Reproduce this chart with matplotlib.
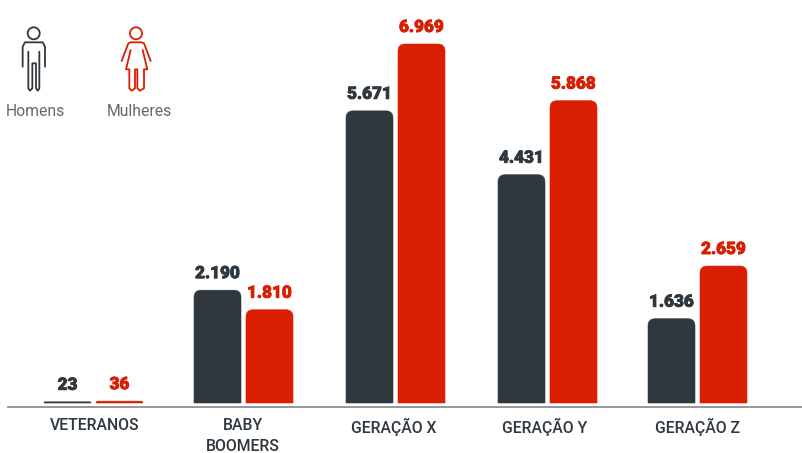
"""Bar chart of men and women per generation."""

import matplotlib
matplotlib.use("Agg")
import matplotlib.pyplot as plt
import matplotlib.patheffects as pe
from matplotlib.path import Path
from matplotlib.patches import PathPatch, Circle

categories = ["VETERANOS", "BABY\nBOOMERS", "GERAÇÃO X", "GERAÇÃO Y", "GERAÇÃO Z"]
homens = [23, 2190, 5671, 4431, 1636]
mulheres = [36, 1810, 6969, 5868, 2659]
homens_labels = ["23", "2.190", "5.671", "4.431", "1.636"]
mulheres_labels = ["36", "1.810", "6.969", "5.868", "2.659"]

DARK = "#30383f"
RED = "#d91e02"
GREY = "#62686d"

# group centres in pixels, the groups are not quite evenly spaced
centers = [93.5, 243.5, 395.5, 547.5, 697.5]
label_centers = [94.5, 243, 393.5, 544.5, 697.5]
bar_w = 47
offset = 26
px_per_unit = 359 / 6969
baseline_px = 403


def rounded_bar(ax, xc, value, color):
    """Bar with rounded top corners only."""
    r = min(7, value * px_per_unit)
    ry = r / px_per_unit
    x0, x1 = xc - bar_w / 2, xc + bar_w / 2
    verts = [(x0, 0), (x0, value - ry), (x0, value), (x0 + r, value),
             (x1 - r, value), (x1, value), (x1, value - ry), (x1, 0), (x0, 0)]
    codes = [Path.MOVETO, Path.LINETO, Path.CURVE3, Path.CURVE3,
             Path.LINETO, Path.CURVE3, Path.CURVE3, Path.LINETO, Path.CLOSEPOLY]
    ax.add_patch(PathPatch(Path(verts, codes), fc=color, ec=color, lw=0.4))


def value_label(ax, xc, value, text, color):
    t = ax.text(xc, value + 12 / px_per_unit, text, ha="center", va="baseline",
                color=color, fontsize=12.3, family="Roboto", weight="black")
    t.set_path_effects([pe.withStroke(linewidth=0.6, foreground=color)])


def zoomed(points):
    return [(x / 3, y / 3 + 10) for x, y in points]


def outline(ax, points, color):
    xs, ys = zip(*zoomed(points))
    ax.plot(xs, ys, color=color, lw=1.3, solid_capstyle="round", solid_joinstyle="round")


fig = plt.figure(figsize=(8.03, 4.53), dpi=100)
ax = fig.add_axes([0, 0, 1, 1])
ax.set_xlim(0, 803)
ax.set_ylim(-(453 - baseline_px) / px_per_unit, baseline_px / px_per_unit)
ax.axis("off")

for i, xc in enumerate(centers):
    rounded_bar(ax, xc - offset, homens[i], DARK)
    rounded_bar(ax, xc + offset, mulheres[i], RED)
    value_label(ax, xc - offset, homens[i], homens_labels[i], DARK)
    value_label(ax, xc + offset, mulheres[i], mulheres_labels[i], RED)
    ax.text(label_centers[i], -14.5 / px_per_unit, categories[i], ha="center", va="top",
            color=DARK, fontsize=11.3, family="Roboto", weight="medium", linespacing=1.55)

ax.plot([8, 803], [-4 / px_per_unit, -4 / px_per_unit], color="#8c8f91", lw=1.3)

# legend, drawn in plain pixel coordinates
lax = fig.add_axes([0, 0, 1, 1])
lax.set_xlim(0, 803)
lax.set_ylim(453, 0)
lax.axis("off")
lax.patch.set_alpha(0)

lax.add_patch(Circle((33.7, 33.3), 6, fc="none", ec=DARK, lw=1.3))
outline(lax, [(68, 170), (68, 110), (75, 97), (128, 97), (135, 110), (135, 170)], DARK)
outline(lax, [(85, 125), (85, 235), (90, 242), (97, 235), (97, 160), (108, 160),
              (108, 235), (113, 242), (118, 235), (118, 125)], DARK)

lax.add_patch(Circle((136, 33.3), 6, fc="none", ec=RED, lw=1.3))
outline(lax, [(365, 153), (385, 100), (392, 97), (425, 97), (432, 100), (452, 153)], RED)
outline(lax, [(392, 120), (378, 178), (388, 178), (388, 235), (395, 242), (405, 235),
              (405, 178), (412, 178), (412, 235), (420, 242), (432, 235), (432, 178),
              (442, 178), (428, 120)], RED)

lax.text(35, 111, "Homens", ha="center", va="center", color=GREY, fontsize=11.3,
         family="Roboto")
lax.text(139.5, 111, "Mulheres", ha="center", va="center", color=GREY, fontsize=11.3,
         family="Roboto")

fig.savefig("out.png", dpi=100, facecolor="white")
plt.close(fig)
